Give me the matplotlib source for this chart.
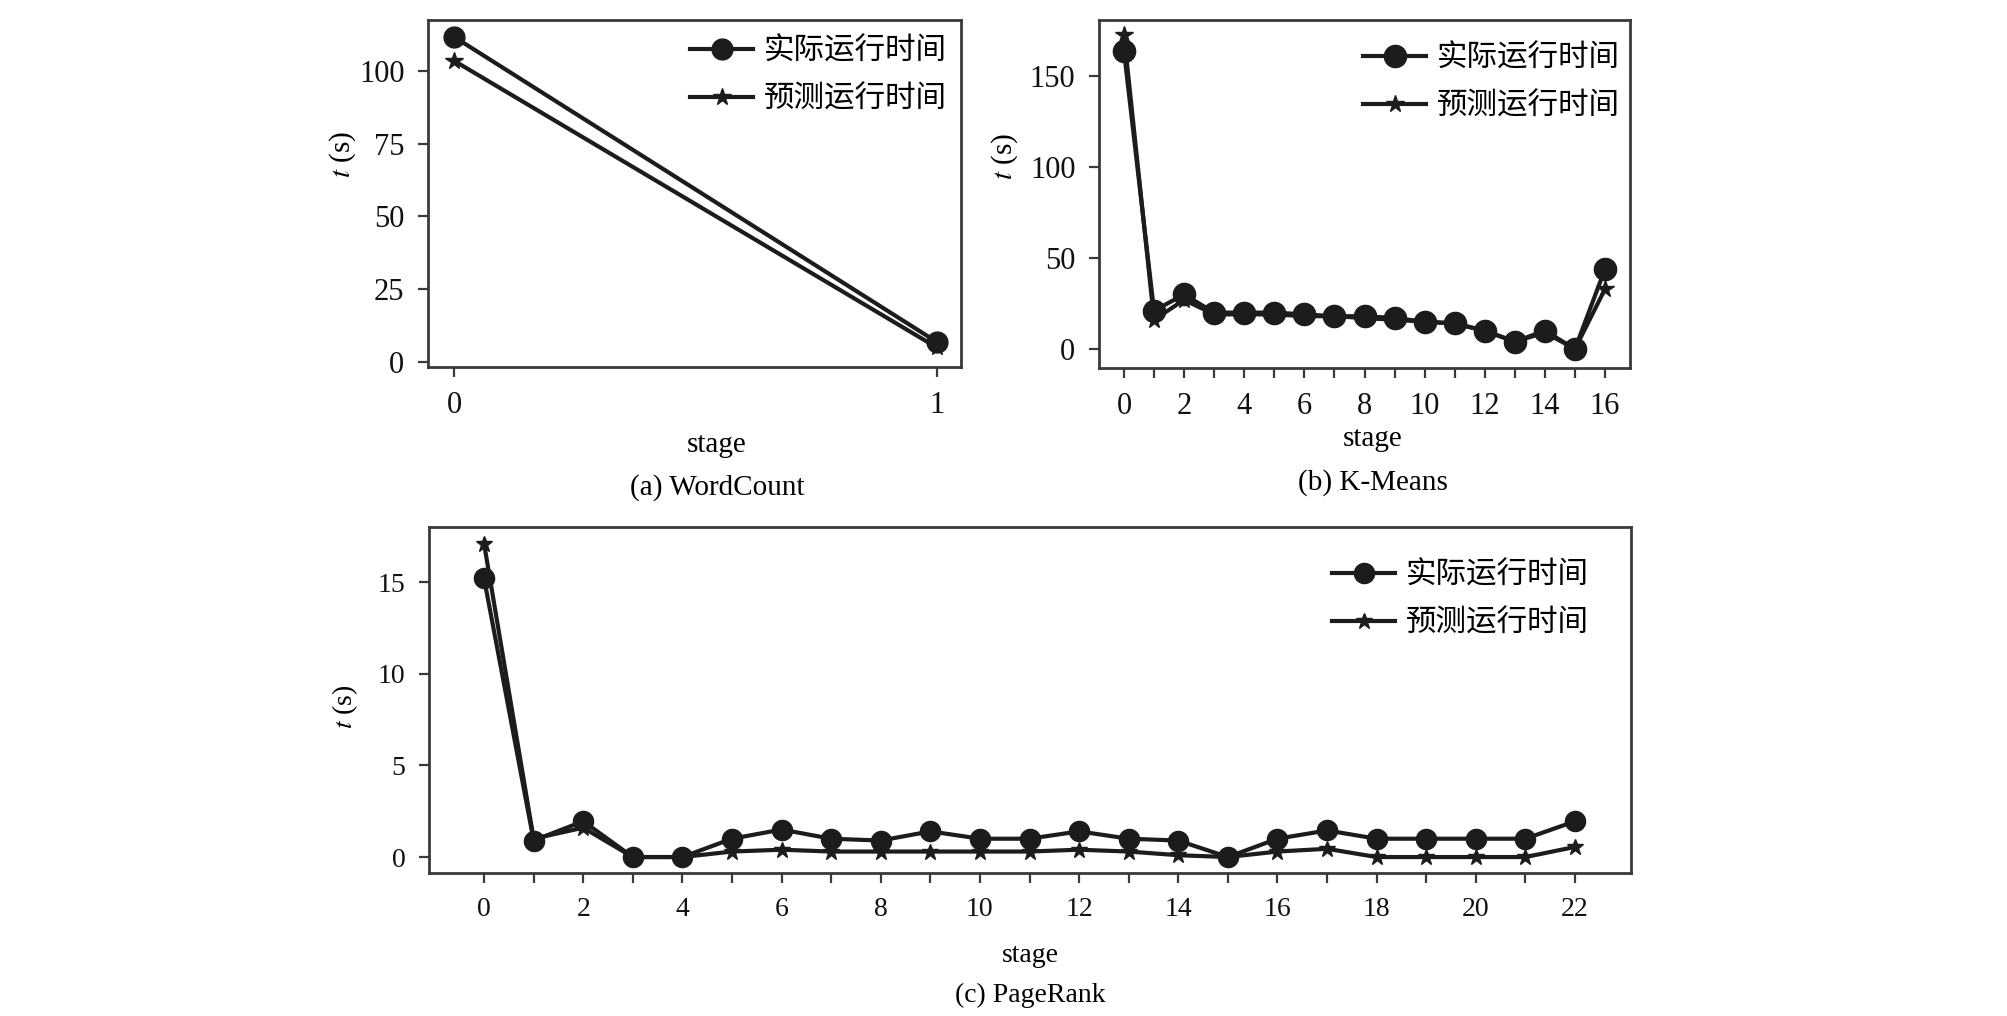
import matplotlib
matplotlib.use("Agg")
import matplotlib.pyplot as plt
from matplotlib.ticker import FixedLocator

plt.rcParams['font.family'] = ['Liberation Serif', 'Noto Sans CJK SC', 'DejaVu Sans']
plt.rcParams['mathtext.fontset'] = 'stix'

legend_labels = ['实际运行时间', '预测运行时间']

# (a) WordCount
wc_stage = [0, 1]
wc_actual = [111.7, 6.9]
wc_pred = [103.5, 5.0]

# (b) K-Means
km_stage = list(range(17))
km_actual = [164, 21, 30, 20, 20, 20, 19, 18, 18, 17, 15, 14, 10, 4, 10, 0, 44]
km_pred = [173, 16, 27, 19, 19, 19, 18, 18, 17, 16, 15, 14, 10, 4, 9, 0, 33]

# (c) PageRank
pr_stage = list(range(23))
pr_actual = [15.2, 0.9, 1.95, 0.0, 0.0, 1.0, 1.5, 1.0, 0.9, 1.4, 1.0, 1.0, 1.4, 1.0, 0.9, 0.0,
             1.0, 1.45, 1.0, 1.0, 1.0, 1.0, 1.95]
pr_pred = [17.1, 1.0, 1.6, 0.0, 0.0, 0.3, 0.4, 0.3, 0.3, 0.3, 0.3, 0.3, 0.4, 0.3, 0.1, 0.0,
           0.3, 0.45, 0.0, 0.0, 0.0, 0.0, 0.55]

W, H = 2008, 1016
fig = plt.figure(figsize=(W / 100, H / 100), dpi=100)
LC = '#1c1c1c'
SC = '#3a3a3a'


def add_ax(l, t, r, b):
    return fig.add_axes([l / W, 1 - b / H, (r - l) / W, (b - t) / H])


def style(ax, fs):
    for s in ax.spines.values():
        s.set_color(SC)
        s.set_linewidth(2.0)
    ax.tick_params(which='both', direction='out', length=7, width=1.6, color=SC,
                   labelsize=fs, pad=10, labelcolor='#111111')


def draw(ax, x, a, p, ms_c, ms_s, lw):
    ax.plot(x, a, color=LC, lw=lw, marker='o', ms=ms_c, label=legend_labels[0], zorder=3)
    ax.plot(x, p, color=LC, lw=lw, marker='*', ms=ms_s, label=legend_labels[1], zorder=3)


def legend(ax, fs, xr, yt):
    return ax.legend(loc='upper right', bbox_to_anchor=(xr / W, 1 - yt / H),
                     bbox_transform=fig.transFigure, frameon=False,
                     prop={'family': ['Noto Sans CJK SC'], 'size': fs},
                     handlelength=2.05, handletextpad=0.36, labelspacing=0.55,
                     borderpad=0, borderaxespad=0)


def stage_ticks(ax, n):
    ax.xaxis.set_major_locator(FixedLocator(list(range(0, n, 2))))
    ax.xaxis.set_minor_locator(FixedLocator(list(range(1, n, 2))))


# panel a
axa = add_ax(428, 20, 961, 367)
draw(axa, wc_stage, wc_actual, wc_pred, 15, 13, 3.0)
axa.set_xlim(-0.054, 1.05)
axa.set_ylim(-1.7, 117.5)
axa.set_xticks(wc_stage)
axa.set_yticks([0, 25, 50, 75, 100])
style(axa, 22)
legend(axa, 22, 947, 36)

# panel b
axb = add_ax(1099, 20, 1630, 368)
draw(axb, km_stage, km_actual, km_pred, 16, 13, 3.0)
axb.set_xlim(-0.83, 16.83)
axb.set_ylim(-10.5, 181)
stage_ticks(axb, len(km_stage))
axb.set_yticks([0, 50, 100, 150])
style(axb, 22)
legend(axb, 22, 1620, 43)

# panel c
axc = add_ax(429, 527, 1631, 873)
draw(axc, pr_stage, pr_actual, pr_pred, 14.5, 12, 3.0)
axc.set_xlim(-1.11, 23.13)
axc.set_ylim(-0.87, 18.0)
stage_ticks(axc, len(pr_stage))
axc.set_yticks([0, 5, 10, 15])
style(axc, 20)
legend(axc, 22, 1589, 560)

# axis labels and captions
fs_lab = 21
fig.text(343 / W, 1 - 155 / H, '$t$ (s)', rotation=90, ha='center', va='center', fontsize=fs_lab)
fig.text(1005 / W, 1 - 157 / H, '$t$ (s)', rotation=90, ha='center', va='center', fontsize=fs_lab)
fig.text(345 / W, 1 - 707 / H, '$t$ (s)', rotation=90, ha='center', va='center', fontsize=20)

fig.text(717 / W, 1 - 445 / H, 'stage', ha='center', va='center', fontsize=fs_lab)
fig.text(1373 / W, 1 - 439 / H, 'stage', ha='center', va='center', fontsize=fs_lab)
fig.text(1030 / W, 1 - 955 / H, 'stage', ha='center', va='center', fontsize=20)

fig.text(717 / W, 1 - 488 / H, '(a) WordCount', ha='center', va='center', fontsize=fs_lab)
fig.text(1373 / W, 1 - 483 / H, '(b) K-Means', ha='center', va='center', fontsize=fs_lab)
fig.text(1030 / W, 1 - 995 / H, '(c) PageRank', ha='center', va='center', fontsize=20)

fig.savefig('out.png', dpi=100, facecolor='white')
